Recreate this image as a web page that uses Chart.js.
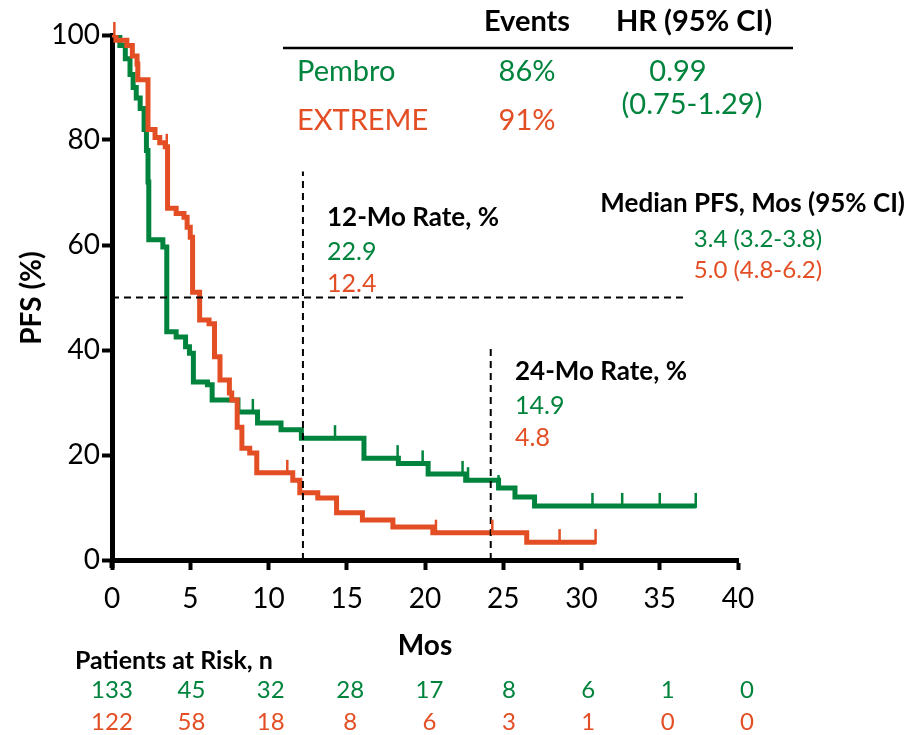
<!DOCTYPE html>
<html>
<head>
<meta charset="utf-8">
<title>PFS</title>
<script src="https://cdn.jsdelivr.net/npm/chart.js@4.4.1/dist/chart.umd.min.js"></script>
<style>
    body { margin: 0; background: #fff; }
    #wrap { width: 910px; height: 735px; }
</style>
</head>
<body>
<div id="wrap"><canvas id="pfs-chart" width="910" height="735"></canvas></div>
<script>
// Datos (meses, % libre de progresión)
const pembroTimes = [0, 0.5, 0.85, 1.15, 1.35, 1.55, 1.8, 2.05, 2.2, 2.3, 2.35, 3.25, 3.5, 4.1, 4.7, 4.95, 5.2, 6.1, 6.4, 8.05, 9.3, 10.8, 12.1, 16.1, 18.3, 20.2, 22.6, 24.7, 25.75, 27.0, 37.3];
const pembroSurv  = [100, 98, 95.5, 92.5, 90, 88, 86, 82, 78, 72, 61, 59.6, 43.5, 42.5, 40.6, 39.4, 33.9, 33.4, 30.5, 28.2, 26.1, 24.8, 23.2, 19.4, 18.4, 16.4, 15.2, 13.7, 12.0, 10.3, 10.3];
const pembroCensor = [9.0, 14.25, 18.25, 19.85, 22.4, 22.75, 24.7, 30.7, 32.6, 35.0, 37.3];

const extremeTimes = [0, 0.25, 0.95, 1.3, 1.6, 1.65, 2.3, 2.75, 3.05, 3.4, 3.55, 4.1, 4.6, 4.8, 5.0, 5.15, 5.6, 6.2, 6.55, 6.9, 7.5, 7.65, 8.0, 8.3, 8.8, 9.25, 11.55, 12.0, 13.15, 14.35, 16.0, 17.95, 20.5, 26.5, 30.9];
const extremeSurv  = [100, 99, 98, 96, 94.5, 91.5, 82, 80.5, 79.5, 78.7, 67, 66, 65.3, 63.4, 61.5, 51, 45.7, 45, 38.7, 34.3, 31.8, 30.5, 25.3, 21.3, 20.4, 16.6, 15.2, 12.8, 11.8, 9.0, 7.6, 6.3, 5.2, 3.4, 3.4];
const extremeCensor = [0.15, 3.5, 11.2, 20.7, 24.3, 28.6, 30.9];

// Líneas de referencia
const rateTimes = [12.2, 24.2];
const rateLineTops = [74, 41];
const medianLevel = 50;
const medianLineEnd = 36.5;

// Pacientes en riesgo
const riskTimes = [0, 5, 10, 15, 20, 25, 30, 35, 40];
const riskPembro = [133, 45, 32, 28, 17, 8, 6, 1, 0];
const riskExtreme = [122, 58, 18, 8, 6, 3, 1, 0, 0];

const GREEN = '#00843D';
const RED = '#E34E24';
const FONT = 'Lato, "Open Sans", sans-serif';

function toPoints(xs, ys) {
    return xs.map((x, i) => ({ x: x, y: ys[i] }));
}

function survivalAt(times, surv, t) {
    let v = surv[0];
    for (let i = 0; i < times.length; i++) {
        if (times[i] <= t) v = surv[i];
    }
    return v;
}

/**
 * Marcas de censura, textos y tabla de pacientes en riesgo
 */
const annotationsPlugin = {
    id: 'annotations',
    afterDatasetsDraw(chart) {
        const ctx = chart.ctx;
        const xs = chart.scales.x;
        const ys = chart.scales.y;

        // Marcas de censura
        const drawCensor = (times, surv, censor, color) => {
            ctx.save();
            ctx.strokeStyle = color;
            ctx.lineWidth = 2.5;
            censor.forEach(t => {
                const px = xs.getPixelForValue(t);
                const py = ys.getPixelForValue(survivalAt(times, surv, t));
                ctx.beginPath();
                ctx.moveTo(px, py + 2);
                ctx.lineTo(px, py - 13);
                ctx.stroke();
            });
            ctx.restore();
        };
        drawCensor(pembroTimes, pembroSurv, pembroCensor, GREEN);
        drawCensor(extremeTimes, extremeSurv, extremeCensor, RED);

        const text = (str, x, y, color, size, bold, align) => {
            ctx.fillStyle = color;
            ctx.font = (bold ? 'bold ' : '') + size + 'px ' + FONT;
            ctx.textAlign = align || 'left';
            ctx.textBaseline = 'middle';
            ctx.fillText(str, x, y);
        };

        ctx.save();
        // Eje Y prolongado por debajo del eje X
        ctx.fillStyle = '#000';
        ctx.fillRect(xs.left - 2.5, ys.bottom, 5, 8);

        // Cabecera de la tabla
        text('Events', 527, 22, '#000', 29, true, 'center');
        text('HR (95% CI)', 694, 22, '#000', 29, true, 'center');
        ctx.strokeStyle = '#000';
        ctx.lineWidth = 2.5;
        ctx.beginPath();
        ctx.moveTo(283, 48);
        ctx.lineTo(793, 48);
        ctx.stroke();

        text('Pembro', 297, 72, GREEN, 29, false, 'left');
        text('86%', 527, 72, GREEN, 29, false, 'center');
        text('0.99', 678, 72, GREEN, 29, false, 'center');
        text('EXTREME', 297, 121, RED, 29, false, 'left');
        text('91%', 527, 121, RED, 29, false, 'center');
        text('(0.75-1.29)', 692, 105, GREEN, 29, false, 'center');

        // Mediana
        text('Median PFS, Mos (95% CI)', 905, 204, '#000', 26, true, 'right');
        text('3.4 (3.2-3.8)', 758, 239, GREEN, 24, false, 'center');
        text('5.0 (4.8-6.2)', 758, 270, RED, 24, false, 'center');

        // Tasas a 12 y 24 meses
        text('12-Mo Rate, %', 327, 218, '#000', 26, true, 'left');
        text('22.9', 327, 252, GREEN, 25, false, 'left');
        text('12.4', 327, 284, RED, 25, false, 'left');
        text('24-Mo Rate, %', 515, 372, '#000', 26, true, 'left');
        text('14.9', 515, 406, GREEN, 25, false, 'left');
        text('4.8', 515, 438, RED, 25, false, 'left');

        // Títulos de ejes
        text('Mos', 425, 646, '#000', 28, true, 'center');
        ctx.save();
        ctx.translate(32, 298);
        ctx.rotate(-Math.PI / 2);
        text('PFS (%)', 0, 0, '#000', 28, true, 'center');
        ctx.restore();

        // Pacientes en riesgo
        text('Patients at Risk, n', 75, 661, '#000', 25, true, 'left');
        riskTimes.forEach((t, i) => {
            const px = xs.getPixelForValue(t) + t / 40 * 9;
            text(String(riskPembro[i]), px, 690, GREEN, 24, false, 'center');
            text(String(riskExtreme[i]), px, 722, RED, 24, false, 'center');
        });
        ctx.restore();
    }
};

const dashed = {
    borderColor: '#000',
    borderWidth: 2,
    borderDash: [7, 5],
    pointRadius: 0,
    fill: false,
    order: 0
};

const canvas = document.getElementById('pfs-chart');
const chart = new Chart(canvas.getContext('2d'), {
    type: 'line',
    data: {
        datasets: [
            Object.assign({ label: '12 mo', data: [{ x: rateTimes[0], y: 0 }, { x: rateTimes[0], y: rateLineTops[0] }] }, dashed),
            Object.assign({ label: '24 mo', data: [{ x: rateTimes[1], y: 0 }, { x: rateTimes[1], y: rateLineTops[1] }] }, dashed),
            Object.assign({ label: 'median', data: [{ x: 0, y: medianLevel }, { x: medianLineEnd, y: medianLevel }] }, dashed),
            {
                label: 'EXTREME',
                data: toPoints(extremeTimes, extremeSurv),
                borderColor: RED,
                borderWidth: 5,
                stepped: true,
                pointRadius: 0,
                fill: false,
                order: 1
            },
            {
                label: 'Pembro',
                data: toPoints(pembroTimes, pembroSurv),
                borderColor: GREEN,
                borderWidth: 5,
                stepped: true,
                pointRadius: 0,
                fill: false,
                order: 2
            }
        ]
    },
    options: {
        responsive: false,
        animation: false,
        layout: { padding: { top: 35, right: 172, left: 0, bottom: 0 } },
        plugins: {
            legend: { display: false },
            tooltip: { enabled: false }
        },
        scales: {
            x: {
                type: 'linear',
                min: 0,
                max: 40,
                afterFit: scale => { scale.height = 175; },
                border: { display: true, color: '#000', width: 5 },
                grid: { drawOnChartArea: false, drawTicks: true, tickLength: 10, tickWidth: 4, tickColor: '#000' },
                ticks: {
                    stepSize: 5,
                    color: '#000',
                    padding: 12,
                    font: { size: 28, family: FONT }
                }
            },
            y: {
                min: 0,
                max: 100,
                afterFit: scale => { scale.width = 112; },
                border: { display: true, color: '#000', width: 5 },
                grid: { drawOnChartArea: false, drawTicks: true, tickLength: 10, tickWidth: 4, tickColor: '#000' },
                ticks: {
                    stepSize: 20,
                    color: '#000',
                    padding: 2,
                    font: { size: 28, family: FONT }
                }
            }
        }
    },
    plugins: [annotationsPlugin]
});
</script>
</body>
</html>
